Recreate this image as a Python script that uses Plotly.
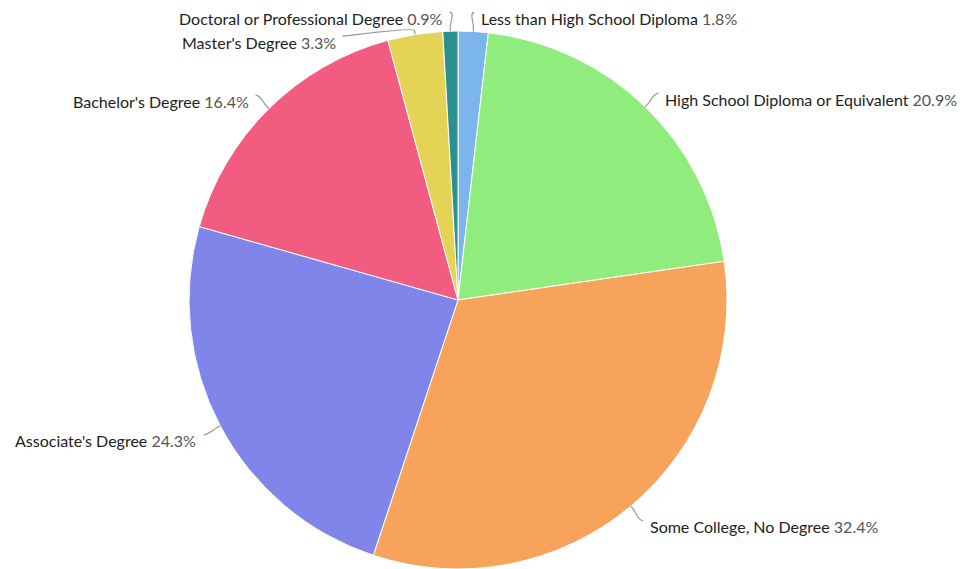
import math
import plotly.graph_objects as go

# ---- data ----
categories = [
    "Less than High School Diploma",
    "High School Diploma or Equivalent",
    "Some College, No Degree",
    "Associate's Degree",
    "Bachelor's Degree",
    "Master's Degree",
    "Doctoral or Professional Degree",
]
shares = [1.8, 20.9, 32.4, 24.3, 16.4, 3.3, 0.9]
colors = ["#7cb5ec", "#90ed7d", "#f7a35c", "#8085e9", "#f15c80", "#e4d354", "#2b908f"]

# ---- layout geometry (pixels) ----
W, H = 970, 569
CX, CY, R = 458, 300, 269
LABEL_DIST = 19
MIN_GAP = 24
FONT = "Lato"


def px(x):
    return x / W


def py(y):
    return 1 - y / H


# pie domain so radius = R centred on (CX, CY)
dom_x = [px(CX - R - 20), px(CX + R + 20)]
dom_y = [py(CY + R), py(CY - R)]
dom_y = [max(0, dom_y[0]), min(1, dom_y[1])]

fig = go.Figure(
    go.Pie(
        labels=categories,
        values=shares,
        sort=False,
        direction="clockwise",
        rotation=0,
        marker=dict(colors=colors, line=dict(color="#ffffff", width=1)),
        textinfo="none",
        hoverinfo="skip",
        showlegend=False,
        domain=dict(x=dom_x, y=dom_y),
    )
)

# ---- label placement derived from the values ----
total = sum(shares)
items = []
cum = 0.0
for name, v in zip(categories, shares):
    mid = (cum + v / 2) / total * 2 * math.pi
    cum += v
    s, c = math.sin(mid), math.cos(mid)
    items.append(dict(name=name, v=v, s=s, c=c, right=s >= 0,
                      y=CY - (R + LABEL_DIST) * c))

for side in (True, False):
    grp = sorted([it for it in items if it["right"] == side], key=lambda d: d["y"])
    for i in range(1, len(grp)):
        if grp[i]["y"] - grp[i - 1]["y"] < MIN_GAP:
            grp[i]["y"] = grp[i - 1]["y"] + MIN_GAP

shapes = []
annotations = []
RL = R + LABEL_DIST
for it in items:
    dy = it["y"] - CY
    dx = math.sqrt(max(RL ** 2 - dy ** 2, 0))
    sign = 1 if it["right"] else -1
    lx, ly = CX + sign * dx, it["y"]
    ex, ey = CX + R * it["s"], CY - R * it["c"]
    bx, by = CX + (R + 4) * it["s"], CY - (R + 4) * it["c"]
    c1x, c1y = lx - sign * 5, ly
    c2x, c2y = 2 * bx - ex, 2 * by - ey
    path = (f"M {px(lx)},{py(ly)} C {px(c1x)},{py(c1y)} {px(c2x)},{py(c2y)} "
            f"{px(bx)},{py(by)} L {px(ex)},{py(ey)}")
    shapes.append(dict(type="path", path=path, xref="paper", yref="paper",
                       line=dict(color="#999999", width=1.2), layer="above"))
    annotations.append(dict(
        x=px(lx + sign * 5), y=py(ly + 6), xref="paper", yref="paper",
        xanchor="left" if it["right"] else "right", yanchor="middle",
        showarrow=False,
        text=f"{it['name']} <span style='color:#555555'>{it['v']:.1f}%</span>",
        font=dict(family=FONT, size=16, color="#222222"),
    ))

fig.update_layout(
    width=W, height=H,
    margin=dict(l=0, r=0, t=0, b=0),
    paper_bgcolor="#ffffff",
    plot_bgcolor="#ffffff",
    shapes=shapes,
    annotations=annotations,
)

fig.write_html("out.html")
